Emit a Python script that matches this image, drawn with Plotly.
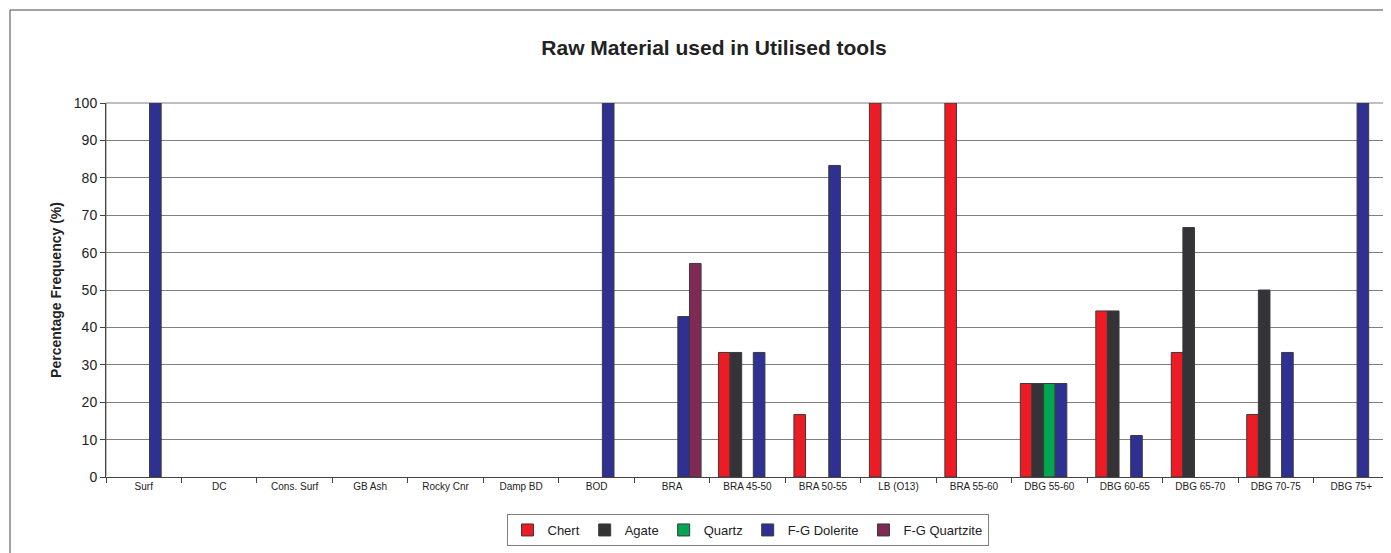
import plotly.graph_objects as go

# Categories (sites / levels) and percentage of each raw material
categories = ["Surf", "DC", "Cons. Surf", "GB Ash", "Rocky Cnr", "Damp BD", "BOD",
              "BRA", "BRA 45-50", "BRA 50-55", "LB (O13)", "BRA 55-60",
              "DBG 55-60", "DBG 60-65", "DBG 65-70", "DBG 70-75", "DBG 75+"]

chert = [0, 0, 0, 0, 0, 0, 0, 0, 33.3, 16.7, 100, 100, 25, 44.4, 33.3, 16.7, 0]
agate = [0, 0, 0, 0, 0, 0, 0, 0, 33.3, 0, 0, 0, 25, 44.4, 66.7, 50, 0]
quartz = [0, 0, 0, 0, 0, 0, 0, 0, 0, 0, 0, 0, 25, 0, 0, 0, 0]
fg_dolerite = [100, 0, 0, 0, 0, 0, 100, 42.9, 33.3, 83.3, 0, 0, 25, 11.1, 0, 33.3, 100]
fg_quartzite = [0, 0, 0, 0, 0, 0, 0, 57.1, 0, 0, 0, 0, 0, 0, 0, 0, 0]

series = [
    ("Chert", chert, "#ED1C24"),
    ("Agate", agate, "#333338"),
    ("Quartz", quartz, "#00A651"),
    ("F-G Dolerite", fg_dolerite, "#2E3192"),
    ("F-G Quartzite", fg_quartzite, "#7F2A55"),
]

fig = go.Figure()
for name, vals, col in series:
    # zero values are not drawn as bars in the original
    y = [v if v > 0 else None for v in vals]
    fig.add_trace(go.Bar(x=categories, y=y, name=name,
                         marker=dict(color=col, line=dict(color="#3a3a3a", width=1))))

# page offset of the plotly div (default body margin)
OFF = 8
# plot area geometry in page pixels
L, R, T, B = 106, 1389, 103, 477
W, H = R - L, B - T
FW, FH = 1391 - OFF, 553 - OFF

fig.update_layout(
    width=FW, height=FH,
    margin=dict(l=L - OFF, r=FW + OFF - R, t=T - OFF, b=FH + OFF - B),
    paper_bgcolor="white", plot_bgcolor="white",
    font=dict(family="Liberation Sans, Arial, sans-serif", color="#222222"),
    title=dict(text="<b>Raw Material used in Utilised tools</b>", x=(714 - OFF) / FW, xanchor="center",
               y=1 - (48 - OFF) / FH, yanchor="middle", font=dict(size=21, color="#222222")),
    barmode="group", bargap=0.23, bargroupgap=0,
    legend=dict(orientation="h", x=0.5, xanchor="center", y=(B - 514) / H, yanchor="top",
                bordercolor="#7f7f7f", borderwidth=1, font=dict(size=13),
                traceorder="normal", itemwidth=30, tracegroupgap=0),
    showlegend=True,
)
fig.update_xaxes(type="category", showline=True, linecolor="#444444", linewidth=1,
                 ticks="outside", tickson="boundaries", ticklen=5, tickcolor="#444444",
                 tickfont=dict(size=10), mirror=False, showgrid=False)
fig.update_yaxes(range=[0, 100], dtick=10, showline=True, linecolor="#444444", linewidth=1,
                 ticks="outside", ticklen=5, tickcolor="#444444", tickfont=dict(size=14),
                 showgrid=True, gridcolor="#7f7f7f", gridwidth=1,
                 title=dict(text="<b>Percentage Frequency (%)</b>", font=dict(size=14), standoff=8))

# plot area top/right border and outer chart frame
fig.add_shape(type="rect", xref="paper", yref="paper", x0=0, x1=1, y0=0, y1=1,
              line=dict(color="#7f7f7f", width=1), layer="below")
fig.add_shape(type="rect", xref="paper", yref="paper",
              x0=(10 - L) / W, x1=(1400 - L) / W, y0=(B - 560) / H, y1=(B - 10) / H,
              line=dict(color="#444444", width=1))

fig.write_html("out.html")
